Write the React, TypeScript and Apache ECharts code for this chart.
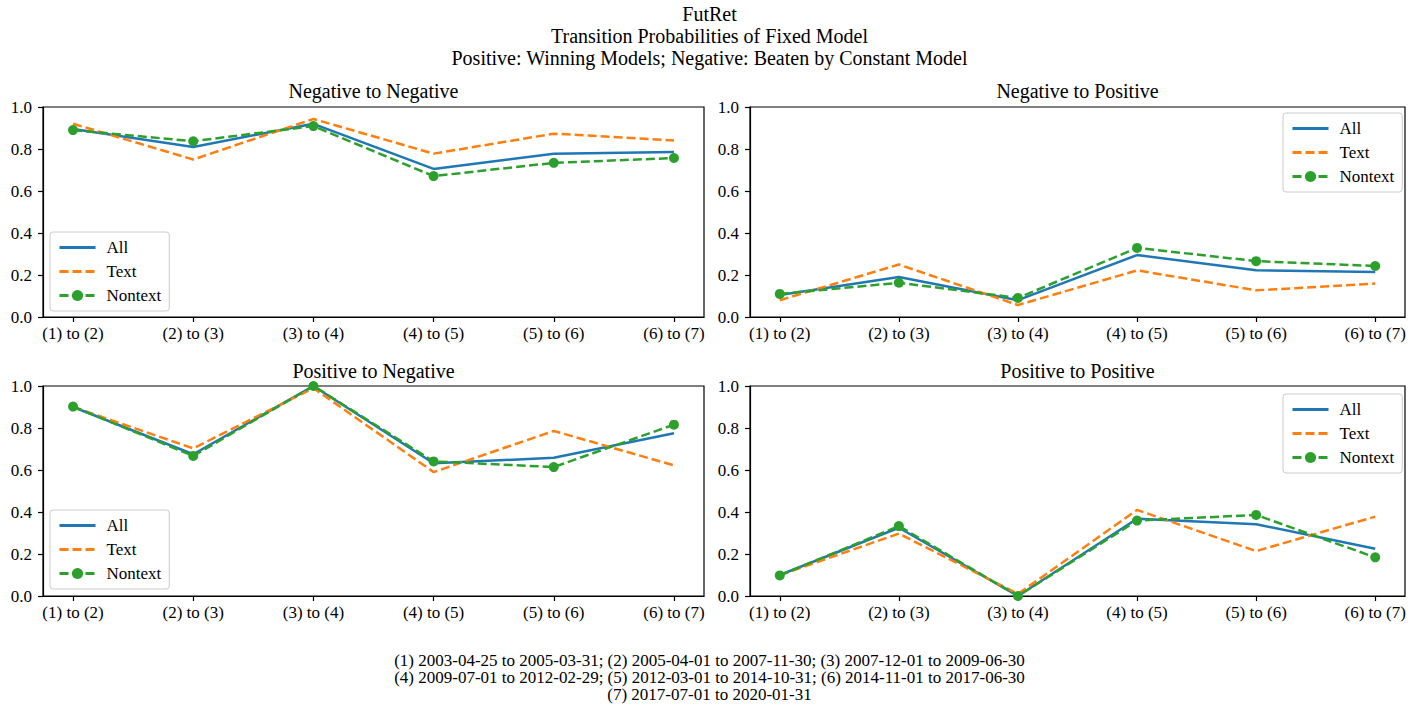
import React, { useEffect, useRef } from 'react';
import * as echarts from 'echarts';

const categories = ['(1) to (2)', '(2) to (3)', '(3) to (4)', '(4) to (5)', '(5) to (6)', '(6) to (7)'];
const seriesNames = ['All', 'Text', 'Nontext'];
const panelTitles = ['Negative to Negative', 'Negative to Positive', 'Positive to Negative', 'Positive to Positive'];

const nnAll = [0.895, 0.81, 0.92, 0.705, 0.777, 0.786];
const nnText = [0.92, 0.75, 0.943, 0.778, 0.873, 0.841];
const nnNontext = [0.89, 0.837, 0.909, 0.671, 0.734, 0.757];

const npAll = [0.105, 0.19, 0.08, 0.295, 0.223, 0.214];
const npText = [0.08, 0.25, 0.057, 0.222, 0.127, 0.159];
const npNontext = [0.11, 0.163, 0.091, 0.329, 0.266, 0.243];

const pnAll = [0.9, 0.675, 1.0, 0.632, 0.658, 0.775];
const pnText = [0.9, 0.703, 0.99, 0.59, 0.786, 0.622];
const pnNontext = [0.902, 0.667, 1.0, 0.641, 0.614, 0.816];

const ppAll = [0.1, 0.325, 0.0, 0.368, 0.342, 0.225];
const ppText = [0.1, 0.297, 0.01, 0.41, 0.214, 0.378];
const ppNontext = [0.098, 0.333, 0.0, 0.359, 0.386, 0.184];

const panelData = [
  [nnAll, nnText, nnNontext],
  [npAll, npText, npNontext],
  [pnAll, pnText, pnNontext],
  [ppAll, ppText, ppNontext],
];

const suptitleLines = [
  'FutRet',
  'Transition Probabilities of Fixed Model',
  'Positive: Winning Models; Negative: Beaten by Constant Model',
];

const footnoteLines = [
  '(1) 2003-04-25 to 2005-03-31; (2) 2005-04-01 to 2007-11-30; (3) 2007-12-01 to 2009-06-30',
  '(4) 2009-07-01 to 2012-02-29; (5) 2012-03-01 to 2014-10-31; (6) 2014-11-01 to 2017-06-30',
  '(7) 2017-07-01 to 2020-01-31',
];

const FONT = '"Liberation Serif", "Times New Roman", serif';
const COLORS = ['#1f77b4', '#ff7f0e', '#2ca02c'];

const grids = [
  { left: 43, top: 107, width: 661, height: 210 },
  { left: 750, top: 107, width: 655, height: 210 },
  { left: 43, top: 386, width: 661, height: 210 },
  { left: 750, top: 386, width: 655, height: 210 },
];
const legendPos = [
  { left: 50, top: 232 },
  { left: 1283, top: 113 },
  { left: 50, top: 510 },
  { left: 1283, top: 394 },
];

export default function App() {
  const ref = useRef<HTMLDivElement>(null);
  useEffect(() => {
    if (!ref.current) return;
    const chart = echarts.init(ref.current, null, { renderer: 'svg' });
    const xIdx = categories.map((_, i) => i);

    const xAxis = grids.map((_, g) => ({
      type: 'value',
      gridIndex: g,
      min: -0.25,
      max: 5.25,
      splitLine: { show: false },
      axisLine: { show: true, onZero: false, lineStyle: { color: '#000', width: 1.2 } },
      axisTick: { show: true, customValues: xIdx, length: 5, lineStyle: { color: '#000', width: 1.2 } },
      axisLabel: {
        customValues: xIdx,
        formatter: (v: number) => categories[Math.round(v)],
        fontSize: 17,
        fontFamily: FONT,
        color: '#000',
        margin: 8,
      },
    }));
    const yAxis = grids.map((_, g) => ({
      type: 'value',
      gridIndex: g,
      min: 0,
      max: 1,
      interval: 0.2,
      splitLine: { show: false },
      axisLine: { show: true, onZero: false, lineStyle: { color: '#000', width: 1.2 } },
      axisTick: { show: true, length: 5, lineStyle: { color: '#000', width: 1.2 } },
      axisLabel: {
        formatter: (v: number) => v.toFixed(1),
        fontSize: 17,
        fontFamily: FONT,
        color: '#000',
        margin: 11,
      },
    }));

    const series: any[] = [];
    panelData.forEach((arrs, g) => {
      arrs.forEach((vals, s) => {
        series.push({
          type: 'line',
          name: seriesNames[s],
          xAxisIndex: g,
          yAxisIndex: g,
          data: vals.map((v, j) => [j, v]),
          symbol: s === 2 ? 'circle' : 'none',
          symbolSize: 10,
          showSymbol: s === 2,
          lineStyle: { color: COLORS[s], width: 2.5, type: s === 0 ? 'solid' : [9, 4] },
          itemStyle: { color: COLORS[s] },
          z: 2 + s,
        });
      });
    });

    const legend = legendPos.map((p) => ({
      data: seriesNames.map((n, s) =>
        s === 2 ? { name: n } : { name: n, itemStyle: { opacity: 0 } }
      ),
      left: p.left,
      top: p.top,
      orient: 'vertical',
      itemWidth: 36,
      itemHeight: 14,
      itemGap: 7,
      padding: [7, 8],
      backgroundColor: 'rgba(255,255,255,0.8)',
      borderColor: '#cccccc',
      borderWidth: 1,
      borderRadius: 3,
      lineStyle: { width: 3 },
      textStyle: { fontSize: 17, fontFamily: FONT, color: '#000', padding: [0, 0, 0, 6] },
      selectedMode: false,
    }));

    const graphic: any[] = [];
    suptitleLines.forEach((t, i) => {
      graphic.push({
        type: 'text',
        x: 709.5,
        y: 14 + i * 22,
        style: { text: t, font: `20px ${FONT}`, fill: '#000', textAlign: 'center', textVerticalAlign: 'middle' },
      });
    });
    panelTitles.forEach((t, g) => {
      const gr = grids[g];
      graphic.push({
        type: 'text',
        x: gr.left + gr.width / 2,
        y: g < 2 ? 91 : 371,
        style: { text: t, font: `20px ${FONT}`, fill: '#000', textAlign: 'center', textVerticalAlign: 'middle' },
      });
    });
    footnoteLines.forEach((t, i) => {
      graphic.push({
        type: 'text',
        x: 709.5,
        y: 660 + i * 17,
        style: { text: t, font: `17px ${FONT}`, fill: '#000', textAlign: 'center', textVerticalAlign: 'middle' },
      });
    });

    chart.setOption({
      animation: false,
      backgroundColor: '#fff',
      grid: grids.map((g) => ({ ...g, show: true, borderColor: '#000', borderWidth: 1.2, backgroundColor: 'transparent' })),
      xAxis,
      yAxis,
      series,
      legend,
      graphic,
    });
    return () => chart.dispose();
  }, []);
  return <div ref={ref} style={{ position: 'absolute', left: 0, top: 0, width: 1419, height: 706 }} />;
}
